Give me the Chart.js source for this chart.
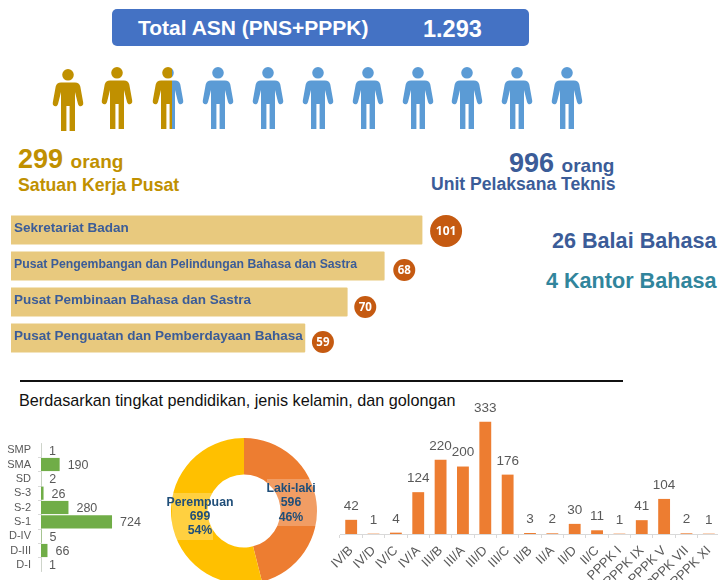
<!DOCTYPE html>
<html><head><meta charset="utf-8">
<script src="https://cdn.jsdelivr.net/npm/chart.js@4"></script>
<style>
html,body{margin:0;padding:0;background:#fff;}
body{position:relative;width:718px;height:580px;overflow:hidden;font-family:"Liberation Sans",Arial,sans-serif;}
.t{position:absolute;white-space:nowrap;font-weight:bold;line-height:1;}
canvas{position:absolute;left:0;top:0;}
.wrap{position:absolute;}
svg{position:absolute;left:0;top:0;}
</style></head><body>
<div style="position:absolute;left:112px;top:9px;width:417px;height:37px;background:#4472C4;border-radius:5px;"></div>
<div class="t" style="left:138px;top:17px;font-size:21px;color:#fff;">Total ASN (PNS+PPPK)</div>
<div class="t" style="left:423px;top:18px;font-size:23.5px;color:#fff;">1.293</div>
<svg width="718" height="140" id="people"></svg>
<div class="t" style="left:18px;top:146px;font-size:27px;color:#C09000;">299 <span style="font-size:19px;">orang</span></div>
<div class="t" style="left:18px;top:177px;font-size:17.7px;color:#C09000;">Satuan Kerja Pusat</div>
<div class="t" style="left:509px;top:150px;font-size:27px;color:#3B5C98;">996 <span style="font-size:19px;">orang</span></div>
<div class="t" style="left:431px;top:176px;font-size:17.6px;color:#3B5C98;">Unit Pelaksana Teknis</div>
<div class="t" style="left:552px;top:230px;font-size:21.6px;color:#3B5C98;">26 Balai Bahasa</div>
<div class="t" style="left:546px;top:270px;font-size:21.6px;color:#31859C;">4 Kantor Bahasa</div>
<div style="position:absolute;left:20px;top:380px;width:603px;height:2px;background:#111;"></div>
<div class="t" style="left:19px;top:392px;font-size:16.2px;font-weight:normal;color:#111;">Berdasarkan tingkat pendidikan, jenis kelamin, dan golongan</div>

<div class="wrap" style="left:11px;top:210px;"><canvas id="unit" width="460" height="150"></canvas></div>
<div class="wrap" style="left:0;top:443px;"><canvas id="edu" width="160" height="129"></canvas></div>
<div class="wrap" style="left:164px;top:431px;"><canvas id="gender" width="160" height="160"></canvas></div>
<div class="wrap" style="left:330px;top:395px;"><canvas id="rank" width="400" height="215"></canvas></div>

<script>
// ---- data ----
const unitNames = ["Sekretariat Badan","Pusat Pengembangan dan Pelindungan Bahasa dan Sastra","Pusat Pembinaan Bahasa dan Sastra","Pusat Penguatan dan Pemberdayaan Bahasa"];
const unitCounts = [101,68,70,59];
const unitBarLengths = [100,90.8,81.8,71.5];
const unitFontSizes = [13.5,12.25,13.5,13.5];
const unitBadgeSizes = [16,11,11,11];
const unitBadgeGaps = [24,20,18,18];
const unitBadgeDrops = [2,5,6,5];
const eduLabels = ["SMP","SMA","SD","S-3","S-2","S-1","D-IV","D-III","D-I"];
const eduValues = [1,190,2,26,280,724,5,66,1];
const genderLabels = ["Laki-laki","Perempuan"];
const genderValues = [596,699];
const genderShares = ["46%","54%"];
const rankLabels = ["IV/B","IV/D","IV/C","IV/A","III/B","III/A","III/D","III/C","II/B","II/A","II/D","II/C","PPPK I","PPPK IX","PPPK V","PPPK VII","PPPK XI"];
const rankValues = [42,1,4,124,220,200,333,176,3,2,30,11,1,41,104,2,1];
const peopleCentres = [68,117,168,218,268,318,368,418,467,517,567];
// ------------------------------------

const FONT = '"Liberation Sans", Arial, sans-serif';
const GREY = '#595959', AXIS = '#D9D9D9';
Chart.defaults.font.family = FONT;
Chart.defaults.animation = false;
Chart.defaults.responsive = false;
Chart.defaults.devicePixelRatio = 1;
Chart.defaults.plugins.legend.display = false;
Chart.defaults.plugins.tooltip.enabled = false;

// people icons
(function(){
  const svg = document.getElementById('people');
  const path = 'M-5.8 5.8a5.8 5.8 0 1 0 11.6 0a5.8 5.8 0 1 0 -11.6 0z M-7 13.5H7C10 13.5 11.5 15 12.3 17.5L15.2 33.5C15.7 36 14 37.3 12.6 37.3C11.4 37.3 10.5 36.5 10 35L7 23V62H1.6V37H-1.6V62H-7V23L-10 35C-10.5 36.5 -11.4 37.3 -12.6 37.3C-14 37.3 -15.7 36 -15.2 33.5L-12.3 17.5C-11.5 15 -10 13.5 -7 13.5Z';
  let html = '<defs><linearGradient id="split" x1="-15" x2="15" y1="0" y2="0" gradientUnits="userSpaceOnUse"><stop offset="0.633" stop-color="#C09000"/><stop offset="0.633" stop-color="#5B9BD5"/></linearGradient></defs>';
  peopleCentres.forEach((c,i)=>{
    const fill = i<2 ? '#C09000' : i===2 ? 'url(#split)' : '#5B9BD5';
    const y = i===0 ? 69 : 67;
    html += `<path transform="translate(${c} ${y})" d="${path}" fill="${fill}"/>`;
  });
  svg.innerHTML = html;
})();

new Chart(document.getElementById('unit'),{
  type:'bar',
  data:{labels:unitNames,datasets:[{data:unitBarLengths,backgroundColor:'#E8C97E',barThickness:28.5,borderRadius:1}]},
  options:{indexAxis:'y',layout:{padding:{top:2,bottom:4}},
    scales:{x:{display:false,min:0,max:111.9},y:{display:false}}},
  plugins:[{id:'unitText',afterDatasetsDraw(c){
    const g=c.ctx,m=c.getDatasetMeta(0);
    g.save();
    m.data.forEach((b,i)=>{
      g.font=`bold ${unitFontSizes[i]}px ${FONT}`;g.fillStyle='#3B5C98';g.textAlign='left';g.textBaseline='middle';
      g.fillText(unitNames[i],3,b.y-1.5);
      const x=b.x+unitBadgeGaps[i],y=b.y+unitBadgeDrops[i]-1;
      g.beginPath();g.arc(x,y,unitBadgeSizes[i],0,Math.PI*2);g.fillStyle='#C55A11';g.fill();
      g.font=`bold ${i===0?12:11.5}px "Open Sans", ${FONT}`;g.fillStyle='#fff';g.textAlign='center';
      g.fillText(String(unitCounts[i]),x,y+.5);
    });
    g.restore();
  }}]
});

const valueLabels = {id:'valueLabels',afterDatasetsDraw(c,a,o){
  const g=c.ctx,m=c.getDatasetMeta(0);
  g.save();g.font=`${o.size}px ${FONT}`;g.fillStyle=GREY;
  m.data.forEach((b,i)=>{
    const v=c.data.datasets[0].data[i];
    if(o.horizontal){g.textAlign='left';g.textBaseline='middle';g.fillText(String(v),b.x+8,b.y+1);}
    else{g.textAlign='center';g.textBaseline='bottom';g.fillText(String(v),b.x,b.y-7);}
  });
  g.restore();
}};

new Chart(document.getElementById('edu'),{
  type:'bar',
  data:{labels:eduLabels,datasets:[{data:eduValues,backgroundColor:'#70AD47',barPercentage:.92,categoryPercentage:1}]},
  options:{indexAxis:'y',
    plugins:{valueLabels:{size:12.5,horizontal:true}},
    scales:{
      x:{display:false,min:0,max:1213},
      y:{afterFit(s){s.width=41;s.paddingTop=0;s.paddingBottom=0;},grid:{display:true,drawOnChartArea:false,color:AXIS,tickLength:3,offset:true},border:{color:AXIS,width:1},
        ticks:{color:GREY,font:{size:11},padding:7,autoSkip:false}}
    }},
  plugins:[valueLabels]
});

new Chart(document.getElementById('gender'),{
  type:'doughnut',
  data:{labels:genderLabels,datasets:[{data:genderValues,backgroundColor:['#ED7D31','#FFC000'],borderWidth:0}]},
  options:{cutout:'50%',radius:73,layout:{padding:0}},
  plugins:[{id:'genderText',afterDatasetsDraw(c){
    const g=c.ctx;
    g.save();
    const boxes=[[103,48,50,47,[58,72,87]],[8,62,41,47,[72,86,100]]];
    boxes.forEach(b=>{
      g.fillStyle='rgba(255,255,255,.25)';g.fillRect(b[0],b[1],b[2],b[3]);
    });
    g.font=`bold 12.3px ${FONT}`;g.textAlign='center';g.textBaseline='middle';g.fillStyle='#1F4E79';
    const tx=[127,36];
    boxes.forEach((b,i)=>{
      [genderLabels[i],String(genderValues[i]),genderShares[i]].forEach((s,j)=>g.fillText(s,tx[i],b[4][j]));
    });
    g.restore();
  }}]
});

new Chart(document.getElementById('rank'),{
  type:'bar',
  data:{labels:rankLabels,datasets:[{data:rankValues,backgroundColor:'#ED7D31',barPercentage:.53,categoryPercentage:1}]},
  options:{
    layout:{padding:{left:10,right:10}},
    plugins:{valueLabels:{size:13.5,horizontal:false}},
    scales:{
      y:{display:false,min:0,max:412},
      x:{afterFit(s){s.height=76;s.paddingLeft=0;s.paddingRight=0;},grid:{display:true,drawOnChartArea:false,color:AXIS,tickLength:4},border:{color:AXIS},
        ticks:{color:GREY,font:{size:13},minRotation:45,maxRotation:45,padding:5,autoSkip:false}}
    }},
  plugins:[valueLabels]
});
</script>
</body></html>
